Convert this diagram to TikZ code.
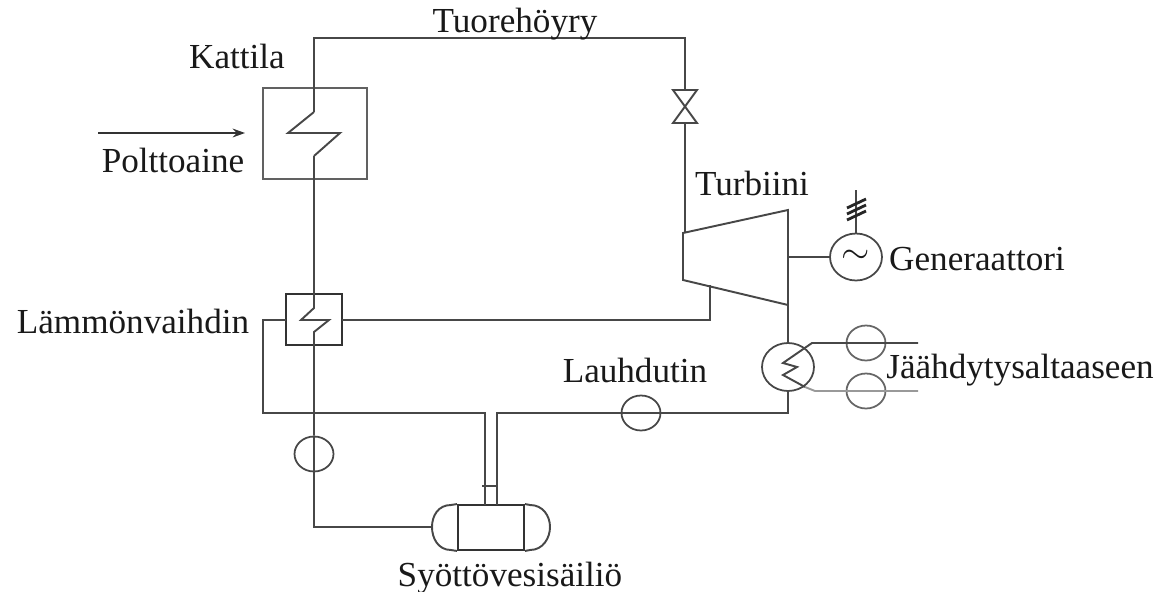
\documentclass[tikz,border=0pt]{standalone}
\usepackage{fontspec}
\setmainfont{Liberation Serif}
\usetikzlibrary{shapes.geometric}
\usetikzlibrary{arrows.meta}

\tikzset{
  pipe/.style={draw=black!72, line width=1.1pt},
  thinpipe/.style={draw=black!40, line width=1.1pt},
  unitbox/.style={rectangle, draw=black!62, line width=1.1pt, inner sep=0pt},
  pump/.style={ellipse, draw=black!72, line width=1pt, inner sep=0pt, minimum width=0.78cm, minimum height=0.7cm},
  lbl/.style={inner sep=0pt, text=black!90, font=\fontsize{20}{24}\selectfont}
}

\begin{document}
\begin{tikzpicture}[x=0.02cm, y=-0.02cm]
\useasboundingbox (0, 0) rectangle (1154, 592);

% units
\node (boiler) at (315, 133.5) [unitbox, minimum width=2.08cm, minimum height=1.82cm] {};
\node (exchanger) at (314, 319.5) [unitbox, draw=black!80, minimum width=1.12cm, minimum height=1.02cm] {};
\node (feedpump) at (314, 454) [pump] {};
\node (condpump) at (641, 413) [pump] {};
\node (generator) at (856, 257) [ellipse, draw=black!72, line width=1pt, inner sep=0pt, minimum width=1.04cm, minimum height=0.94cm] {};
\node (condenser) at (788, 367) [ellipse, draw=black!72, line width=1pt, inner sep=0pt, minimum width=1.04cm, minimum height=0.96cm] {};
\node (coolpumpa) at (866, 343) [pump, draw=black!60] {};
\node (coolpumpb) at (866, 391) [pump, draw=black!60] {};
\node (tank) at (491, 527.5) [unitbox, draw=black!80, minimum width=1.32cm, minimum height=0.9cm] {};
\node (genmark) at (856, 257) [inner sep=0pt, text=black!90, font=\fontsize{20}{24}\selectfont] {$\sim$};

% turbine
\coordinate (turbtl) at (683, 233);
\coordinate (turbtr) at (788, 210);
\coordinate (turbbr) at (788, 305);
\coordinate (turbbl) at (683, 280);
\draw [pipe] (turbtl)--(turbtr)--(turbbr)--(turbbl)--cycle;

% valve
\coordinate (valvetop) at (685, 90);
\coordinate (valvemid) at (685, 106);
\coordinate (valvebot) at (685, 123);
\draw [pipe] (673, 90)--(697, 90)--(673, 123)--(697, 123)--cycle;

% steam line
\coordinate (boilertop) at (314, 38);
\coordinate (valveup) at (685, 38);
\coordinate (zigatop) at (314, 112);
\coordinate (zigbot) at (314, 156);
\draw [pipe] (zigatop)--(boilertop)--(valveup)--(valvetop);
\draw [pipe] (valvebot)--(685, 233);
\draw [pipe] (zigatop)--(288, 133)--(340, 133)--(zigbot);

% feed line
\coordinate (hxtop) at (314, 308);
\coordinate (hxbot) at (314, 332);
\coordinate (tankcorner) at (314, 527);
\coordinate (tankleft) at (432, 527);
\draw [pipe] (zigbot)--(hxtop)--(301, 320)--(329, 320)--(hxbot)--(feedpump.north);
\draw [pipe] (feedpump.north)--(feedpump.south)--(tankcorner)--(tankleft);

% bleed line
\coordinate (bleedup) at (710, 285);
\coordinate (bleedcorner) at (710, 320);
\coordinate (hxleft) at (263, 320);
\coordinate (hxdown) at (263, 413);
\coordinate (drainl) at (485, 413);
\coordinate (drainr) at (497, 413);
\coordinate (cornerr) at (788, 413);
\draw [pipe] (342, 320)--(bleedcorner)--(bleedup);
\draw [pipe] (286, 320)--(hxleft)--(hxdown)--(drainl)--(485, 505);
\draw [pipe] (497, 505)--(drainr)--(condpump.west);
\draw [pipe] (condpump.west)--(condpump.east)--(cornerr)--(condenser.south);
\draw [pipe] (482, 486)--(497, 486);

% tank ends
\draw [pipe] (tank.north west)--(451, 505) .. controls (438, 505) and (432, 516) .. (tankleft) .. controls (432, 538) and (438, 550) .. (451, 550)--(tank.south west);
\draw [pipe] (tank.north east)--(530, 505) .. controls (543, 505) and (550, 516) .. (550, 527) .. controls (550, 538) and (543, 550) .. (530, 550)--(tank.south east);

% condenser and generator
\draw [pipe] (turbbr)--(condenser.north);
\draw [pipe] (788, 257)--(generator.west);
\draw [pipe] (generator.north)--(856, 190);
\draw [pipe, draw=black!85, line width=1.6pt] (847, 208)--(866, 199);
\draw [pipe, draw=black!85, line width=1.6pt] (847, 214)--(866, 205);
\draw [pipe, draw=black!85, line width=1.6pt] (847, 220)--(866, 211);

% cooling water
\coordinate (coolina) at (918, 343);
\coordinate (coolinb) at (918, 391);
\draw [pipe] (coolina)--(812, 343)--(783, 363)--(797, 367)--(783, 375)--(805, 387);
\draw [thinpipe] (805, 387)--(815, 391)--(coolinb);

% arrow
\coordinate (fuelstart) at (98, 133);
\coordinate (fuelend) at (245, 133);
\draw [-{Stealth[length=7pt, width=5pt]}, black!80, line width=1.1pt] (fuelstart)--(fuelend);

% labels
\node (kattila) at (237, 56) [lbl] {Kattila};
\node (tuorehoyry) at (515, 24) [lbl] {Tuorehöyry};
\node (polttoaine) at (173, 160) [lbl] {Polttoaine};
\node (turbiini) at (752, 183) [lbl] {Turbiini};
\node (generaattori) at (977, 259) [lbl] {Generaattori};
\node (lammonvaihdin) at (133, 321) [lbl] {Lämmönvaihdin};
\node (lauhdutin) at (635, 370) [lbl] {Lauhdutin};
\node (jaahdytys) at (1020, 370) [lbl] {Jäähdytysaltaaseen};
\node (syottovesi) at (510, 578) [lbl] {Syöttövesisäiliö};
\end{tikzpicture}
\end{document}
